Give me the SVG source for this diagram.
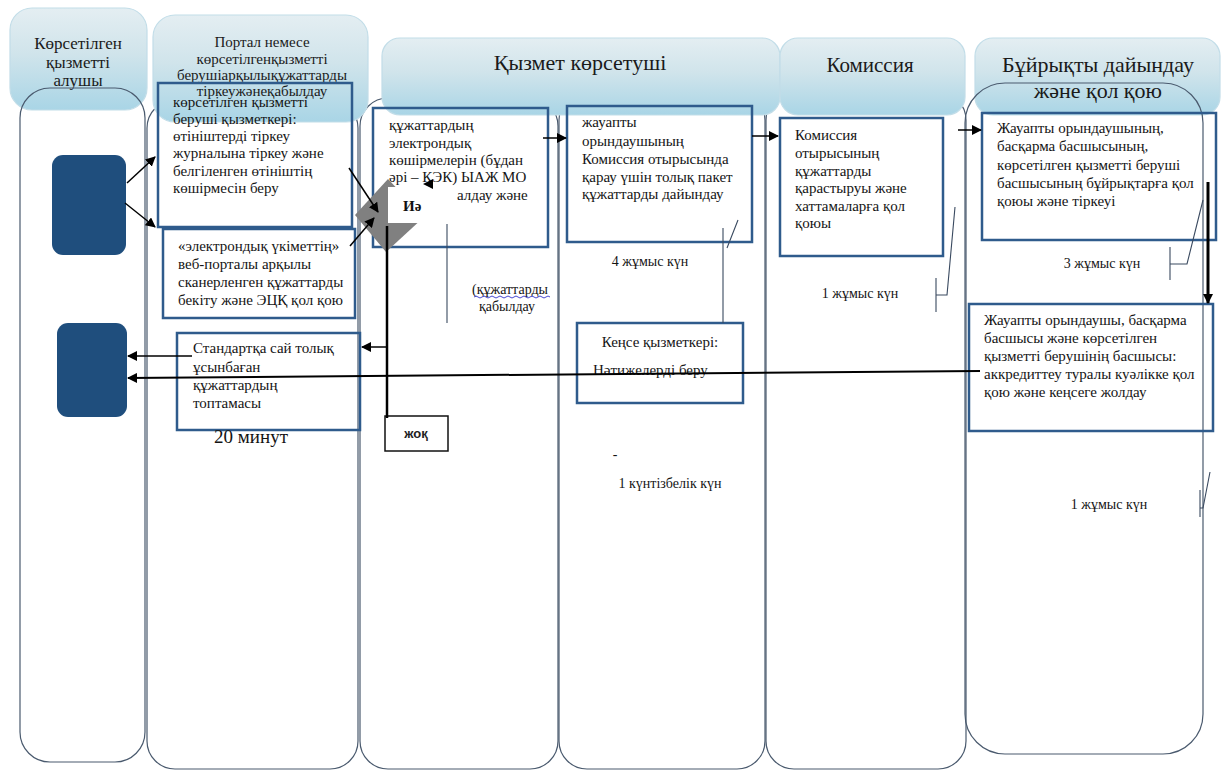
<svg xmlns="http://www.w3.org/2000/svg" width="1221" height="772" viewBox="0 0 1221 772">
<style>
.lane{fill:none;stroke:#4a5a6e;stroke-width:1.2}
.hdr{fill:url(#hg);stroke:#c2dde8;stroke-width:1.2}
.box{fill:none;stroke:#2f5b8c;stroke-width:2.5}
.c{stroke:#000;stroke-width:1.5;fill:none}
.br{stroke:#3a4a60;stroke-width:1.1;fill:none}
</style>
<defs>
<linearGradient id="hg" x1="0" y1="0" x2="0" y2="1">
<stop offset="0" stop-color="#e4eef2"/>
<stop offset="0.45" stop-color="#d0e4eb"/>
<stop offset="1" stop-color="#a9d5e6"/>
</linearGradient>
<marker id="ah" viewBox="0 0 10 10" refX="9" refY="5" markerUnits="userSpaceOnUse" markerWidth="10" markerHeight="10" orient="auto">
<path d="M0,0 L10,5 L0,10 z" fill="#000"/>
</marker>
</defs>
<rect width="1221" height="772" fill="#fff"/>

<g id="lanes-back">
<rect class="lane" x="147" y="100" width="211" height="669" rx="28"/>
<rect class="lane" x="360" y="98" width="198" height="671" rx="28"/>
<rect class="lane" x="559" y="92" width="206" height="677" rx="28"/>
<rect class="lane" x="766" y="92" width="200" height="677" rx="28"/>
</g>

<g id="headers">
<rect class="hdr" x="10" y="8" width="137" height="102" rx="22"/>
<rect class="hdr" x="153" y="15" width="215" height="107" rx="22"/>
<rect class="hdr" x="382" y="38" width="398" height="77" rx="18"/>
<rect class="hdr" x="780" y="38" width="185" height="77" rx="18"/>
<rect class="hdr" x="975" y="38" width="245" height="77" rx="18"/>
<text font-family="Liberation Serif, serif" fill="#1a1a1a" text-anchor="middle" font-size="17" x="78" y="49">Көрсетілген</text>
<text font-family="Liberation Serif, serif" fill="#1a1a1a" text-anchor="middle" font-size="17" x="78" y="68">қызметті</text>
<text font-family="Liberation Serif, serif" fill="#1a1a1a" text-anchor="middle" font-size="17" x="78" y="86">алушы</text>
<text font-family="Liberation Serif, serif" fill="#1a1a1a" text-anchor="middle" font-size="15" x="262" y="47">Портал немесе</text>
<text font-family="Liberation Serif, serif" fill="#1a1a1a" text-anchor="middle" font-size="15" x="262" y="64">көрсетілгенқызметті</text>
<text font-family="Liberation Serif, serif" fill="#1a1a1a" text-anchor="middle" font-size="15" x="262" y="80">берушіарқылықұжаттарды</text>
<text font-family="Liberation Serif, serif" fill="#1a1a1a" text-anchor="middle" font-size="15" x="262" y="96">тіркеужәнеқабылдау</text>
<text font-family="Liberation Serif, serif" fill="#1a1a1a" text-anchor="middle" font-size="22" x="580" y="70">Қызмет көрсетуші</text>
<text font-family="Liberation Serif, serif" fill="#1a1a1a" text-anchor="middle" font-size="21" x="870" y="72">Комиссия</text>
<text font-family="Liberation Serif, serif" fill="#1a1a1a" text-anchor="middle" font-size="22" x="1098" y="72">Бұйрықты дайындау</text>
<text font-family="Liberation Serif, serif" fill="#1a1a1a" text-anchor="middle" font-size="22" x="1098" y="98">және қол қою</text>
</g>

<g id="lanes-front">
<rect class="lane" x="20" y="88" width="125" height="674" rx="30"/>
<rect class="lane" x="965" y="83" width="238" height="671" rx="40"/>
</g>

<g id="node-recipient-1"><rect x="52" y="155" width="74" height="100" rx="11" fill="#1f4e7d"/></g>
<g id="node-recipient-2"><rect x="57" y="323" width="70" height="94" rx="11" fill="#1f4e7d"/></g>

<g id="node-register">
<rect class="box" x="158" y="83" width="194" height="144"/>
<text font-family="Liberation Serif, serif" font-size="15" fill="#141414"><tspan x="173" y="107">көрсетілген қызметті</tspan><tspan x="173" y="124">беруші қызметкері:</tspan><tspan x="173" y="141">өтініштерді тіркеу</tspan><tspan x="173" y="158">журналына тіркеу және</tspan><tspan x="173" y="176">белгіленген өтініштің</tspan><tspan x="173" y="193">көшірмесін беру</tspan></text>
</g>

<g id="node-egov">
<rect class="box" x="163" y="229" width="192" height="89"/>
<text font-family="Liberation Serif, serif" font-size="15" fill="#141414"><tspan x="178" y="251">«электрондық үкіметтің»</tspan><tspan x="178" y="269">веб-порталы арқылы</tspan><tspan x="178" y="287">сканерленген  құжаттарды</tspan><tspan x="178" y="305">бекіту және ЭЦҚ қол қою</tspan></text>
</g>

<g id="node-incomplete">
<rect class="box" x="177" y="333" width="183" height="97"/>
<text font-family="Liberation Serif, serif" font-size="15" fill="#141414"><tspan x="193" y="353">Стандартқа сай толық</tspan><tspan x="193" y="372">ұсынбаған</tspan><tspan x="193" y="390">құжаттардың</tspan><tspan x="193" y="408">топтамасы</tspan></text>
<text font-family="Liberation Serif, serif" font-size="19" fill="#141414" x="251" y="443" text-anchor="middle">20 минут</text>
</g>

<g id="node-ecopies">
<rect class="box" x="373" y="108" width="175" height="139"/>
<text font-family="Liberation Serif, serif" font-size="15" fill="#141414"><tspan x="389" y="130">құжаттардың</tspan><tspan x="389" y="148">электрондық</tspan><tspan x="389" y="165">көшірмелерін (бұдан</tspan><tspan x="389" y="182">әрі – ҚЭК) ЫАЖ МО</tspan><tspan x="457" y="200">алдау және</tspan></text>
</g>

<g id="node-decision">
<polygon points="388,179 424,217 386,252 355,215" fill="#808080"/>
<rect x="388" y="187" width="59" height="36" fill="#fff"/>
<text font-family="Liberation Serif, serif" font-weight="bold" font-size="15" fill="#111" x="403" y="211">Иә</text>
</g>

<g id="node-no">
<rect x="385" y="416" width="63" height="35" fill="#fff" stroke="#111" stroke-width="1.5"/>
<text font-family="Liberation Sans, sans-serif" font-weight="bold" font-size="13" fill="#222" x="416" y="438" text-anchor="middle">жоқ</text>
</g>

<g id="node-prepare">
<rect class="box" x="567" y="106" width="185" height="136"/>
<text font-family="Liberation Serif, serif" font-size="15" fill="#141414"><tspan x="582" y="127">жауапты</tspan><tspan x="582" y="146">орындаушының</tspan><tspan x="582" y="164">Комиссия отырысында</tspan><tspan x="582" y="182">қарау үшін толық пакет</tspan><tspan x="582" y="199">құжаттарды дайындау</tspan></text>
</g>

<g id="node-office">
<rect class="box" x="577" y="323" width="166" height="80"/>
<text font-family="Liberation Serif, serif" font-size="15" fill="#141414" x="660" y="347" text-anchor="middle">Кеңсе қызметкері:</text>
<text font-family="Liberation Serif, serif" font-size="15" fill="#141414" x="593" y="375">Нәтижелерді беру</text>
</g>

<g id="node-commission">
<rect class="box" x="780" y="118" width="163" height="138"/>
<text font-family="Liberation Serif, serif" font-size="15" fill="#141414"><tspan x="795" y="140">Комиссия</tspan><tspan x="795" y="158">отырысының</tspan><tspan x="795" y="176">құжаттарды</tspan><tspan x="795" y="193">қарастыруы және</tspan><tspan x="795" y="211">хаттамаларға қол</tspan><tspan x="795" y="228">қоюы</tspan></text>
</g>

<g id="node-order-sign">
<rect class="box" x="982" y="113" width="234" height="127"/>
<text font-family="Liberation Serif, serif" font-size="15" fill="#141414"><tspan x="997" y="133">Жауапты орындаушының,</tspan><tspan x="997" y="151">басқарма басшысының,</tspan><tspan x="997" y="170">көрсетілген қызметті беруші</tspan><tspan x="997" y="188">басшысының бұйрықтарға қол</tspan><tspan x="997" y="206">қоюы және тіркеуі</tspan></text>
</g>

<g id="node-certificate">
<rect class="box" x="969" y="304" width="244" height="127"/>
<text font-family="Liberation Serif, serif" font-size="15" fill="#141414"><tspan x="984" y="325">Жауапты орындаушы, басқарма</tspan><tspan x="984" y="343">басшысы және көрсетілген</tspan><tspan x="984" y="361">қызметті берушінің басшысы:</tspan><tspan x="984" y="379">аккредиттеу туралы куәлікке қол</tspan><tspan x="984" y="397">қою және кеңсеге жолдау</tspan></text>
</g>

<g id="labels">
<text font-family="Liberation Serif, serif" font-size="14" fill="#141414" text-anchor="middle" x="510" y="294">(құжаттарды</text>
<path d="M474,297 q2,-2 4,0 t4,0 t4,0 t4,0 t4,0 t4,0 t4,0 t4,0 t4,0 t4,0 t4,0 t4,0 t4,0 t4,0 t4,0 t4,0 t4,0 t4,0 t4,0" fill="none" stroke="#3333cc" stroke-width="0.9"/>
<text font-family="Liberation Serif, serif" font-size="14" fill="#141414" text-anchor="middle" x="507" y="311">қабылдау</text>
<text font-family="Liberation Serif, serif" font-size="14" fill="#141414" text-anchor="middle" x="650" y="266">4 жұмыс күн</text>
<text font-family="Liberation Serif, serif" font-size="14" fill="#141414" text-anchor="middle" x="860" y="298">1 жұмыс күн</text>
<text font-family="Liberation Serif, serif" font-size="14" fill="#141414" text-anchor="middle" x="1102" y="268">3 жұмыс күн</text>
<text font-family="Liberation Serif, serif" font-size="14" fill="#141414" text-anchor="middle" x="615" y="459">-</text>
<text font-family="Liberation Serif, serif" font-size="14" fill="#141414" text-anchor="middle" x="670" y="488">1 күнтізбелік күн</text>
<text font-family="Liberation Serif, serif" font-size="14" fill="#141414" text-anchor="middle" x="1109" y="509">1 жұмыс күн</text>
</g>

<g id="connectors">
<line class="c" x1="127" y1="183" x2="155" y2="157" marker-end="url(#ah)"/>
<line class="c" x1="125" y1="203" x2="155" y2="227" marker-end="url(#ah)"/>
<line class="c" x1="349" y1="168" x2="378" y2="212" marker-end="url(#ah)"/>
<line class="c" x1="350" y1="246" x2="374" y2="218" marker-end="url(#ah)"/>
<polygon points="423,184 433,179 433,189" fill="#000"/>
<line x1="387" y1="226" x2="387" y2="418" stroke="#000" stroke-width="2.5"/>
<line class="c" x1="387" y1="347" x2="362" y2="347" marker-end="url(#ah)"/>
<line class="c" x1="192" y1="356" x2="128" y2="356" marker-end="url(#ah)"/>
<line x1="980" y1="371" x2="128" y2="378" stroke="#000" stroke-width="2" marker-end="url(#ah)"/>
<line class="c" x1="543" y1="138" x2="566" y2="138" marker-end="url(#ah)"/>
<line class="c" x1="752" y1="136" x2="778" y2="136" marker-end="url(#ah)"/>
<line class="c" x1="958" y1="130" x2="981" y2="130" marker-end="url(#ah)"/>
<line x1="1208" y1="182" x2="1208" y2="303" stroke="#000" stroke-width="3" marker-end="url(#ah)"/>
<path class="br" d="M447,224 V323"/>
<path class="br" d="M723,323 V228 M727,248 L738,220"/>
<path class="br" d="M936,278 V312 M936,295 H947 L955,207"/>
<path class="br" d="M1170,247 V280 M1170,264 H1187 L1203,200"/>
<path class="br" d="M1200,490 V517 M1200,508 H1203 L1210,472"/>
</g>
</svg>
